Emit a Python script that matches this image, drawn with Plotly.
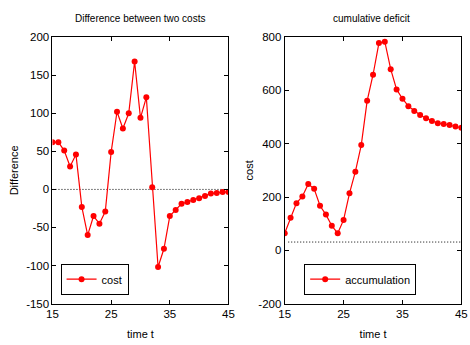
import plotly.graph_objects as go

t = list(range(15, 46))
diff = [62, 62, 51, 30, 46, -23, -60, -35, -45, -29, 49, 102, 80, 100, 168, 94, 121,
        3, -102, -78, -35, -27, -19, -16.5, -14, -11.5, -8.5, -5.5, -4.6, -3.5, -3.4]
accum = [64, 122, 177, 202, 249, 231, 167, 134, 92, 64, 114, 214, 295, 395, 561, 659,
         778, 783, 680, 604, 569, 541, 523, 508, 496, 485, 477, 474, 470, 465, 460]
ref_left_x = [15, 45]
ref_left_y = [0, 0]
ref_right_x = [15.6, 45]
ref_right_y = [31, 31]
x_ticks = [15, 25, 35, 45]
y1_ticks = list(range(-150, 201, 50))
y2_ticks = list(range(-200, 801, 200))

FONT = "Liberation Sans Narrow, Arial Narrow, Liberation Sans, Arial, sans-serif"
RED = "#ff0000"

fig = go.Figure()
fig.add_trace(go.Scatter(x=ref_left_x, y=ref_left_y, mode="lines",
                         line=dict(color="black", width=1, dash="1px,2px"),
                         showlegend=False, xaxis="x", yaxis="y"))
fig.add_trace(go.Scatter(x=t, y=diff, mode="lines+markers", name="cost",
                         line=dict(color=RED, width=1.2),
                         marker=dict(color=RED, size=6),
                         xaxis="x", yaxis="y", legend="legend"))
fig.add_trace(go.Scatter(x=ref_right_x, y=ref_right_y, mode="lines",
                         line=dict(color="black", width=1, dash="1px,2px"),
                         showlegend=False, xaxis="x2", yaxis="y2"))
fig.add_trace(go.Scatter(x=t, y=accum, mode="lines+markers", name="accumulation",
                         line=dict(color=RED, width=1.2),
                         marker=dict(color=RED, size=6),
                         xaxis="x2", yaxis="y2", legend="legend2"))

axis_common = dict(showline=True, linecolor="black", linewidth=1, mirror="allticks",
                   ticks="inside", ticklen=4, tickcolor="black", showgrid=False,
                   zeroline=False, tickfont=dict(family=FONT, size=11.5, color="black"))


def lab(v):
    return [str(x) for x in v]


ydom = [1 - 308.3 / 345, 1 - 32.3 / 345]
title_font = dict(family=FONT, size=11, color="black")
fig.update_layout(
    width=470, height=345,
    margin=dict(l=0, r=0, t=0, b=0),
    paper_bgcolor="white", plot_bgcolor="white",
    font=dict(family=FONT, color="black"),
    xaxis=dict(domain=[47.7 / 470, 228.3 / 470], range=[15, 45], tickvals=x_ticks,
               ticktext=lab(x_ticks), anchor="y",
               title=dict(text="time t", font=title_font, standoff=10),
               **axis_common),
    yaxis=dict(domain=ydom, range=[-150, 200], tickvals=y1_ticks, ticktext=lab(y1_ticks),
               anchor="x", title=dict(text="Difference", font=title_font, standoff=5),
               **axis_common),
    xaxis2=dict(domain=[286 / 470, 467.3 / 470], range=[15, 45], tickvals=x_ticks,
                ticktext=lab(x_ticks), anchor="y2",
                title=dict(text="time t", font=title_font, standoff=10),
                **axis_common),
    yaxis2=dict(domain=ydom, range=[-200, 800], tickvals=y2_ticks, ticktext=lab(y2_ticks),
                anchor="x2", title=dict(text="cost", font=title_font, standoff=2),
                **axis_common),
    legend=dict(x=56 / 470, y=1 - 267 / 345, xanchor="left", yanchor="top",
                bordercolor="black", borderwidth=1, bgcolor="white",
                font=dict(family=FONT, size=11), itemwidth=30),
    legend2=dict(x=306 / 470, y=1 - 267 / 345, xanchor="left", yanchor="top",
                 bordercolor="black", borderwidth=1, bgcolor="white",
                 font=dict(family=FONT, size=11), itemwidth=30),
    annotations=[
        dict(text="Difference between two costs", x=137 / 470, y=1 - 13 / 345,
             xref="paper", yref="paper", xanchor="center", yanchor="middle",
             showarrow=False, font=dict(family=FONT, size=10, color="black")),
        dict(text="cumulative deficit", x=375 / 470, y=1 - 13 / 345,
             xref="paper", yref="paper", xanchor="center", yanchor="middle",
             showarrow=False, font=dict(family=FONT, size=10, color="black")),
    ],
)

fig.write_html("out.html")
